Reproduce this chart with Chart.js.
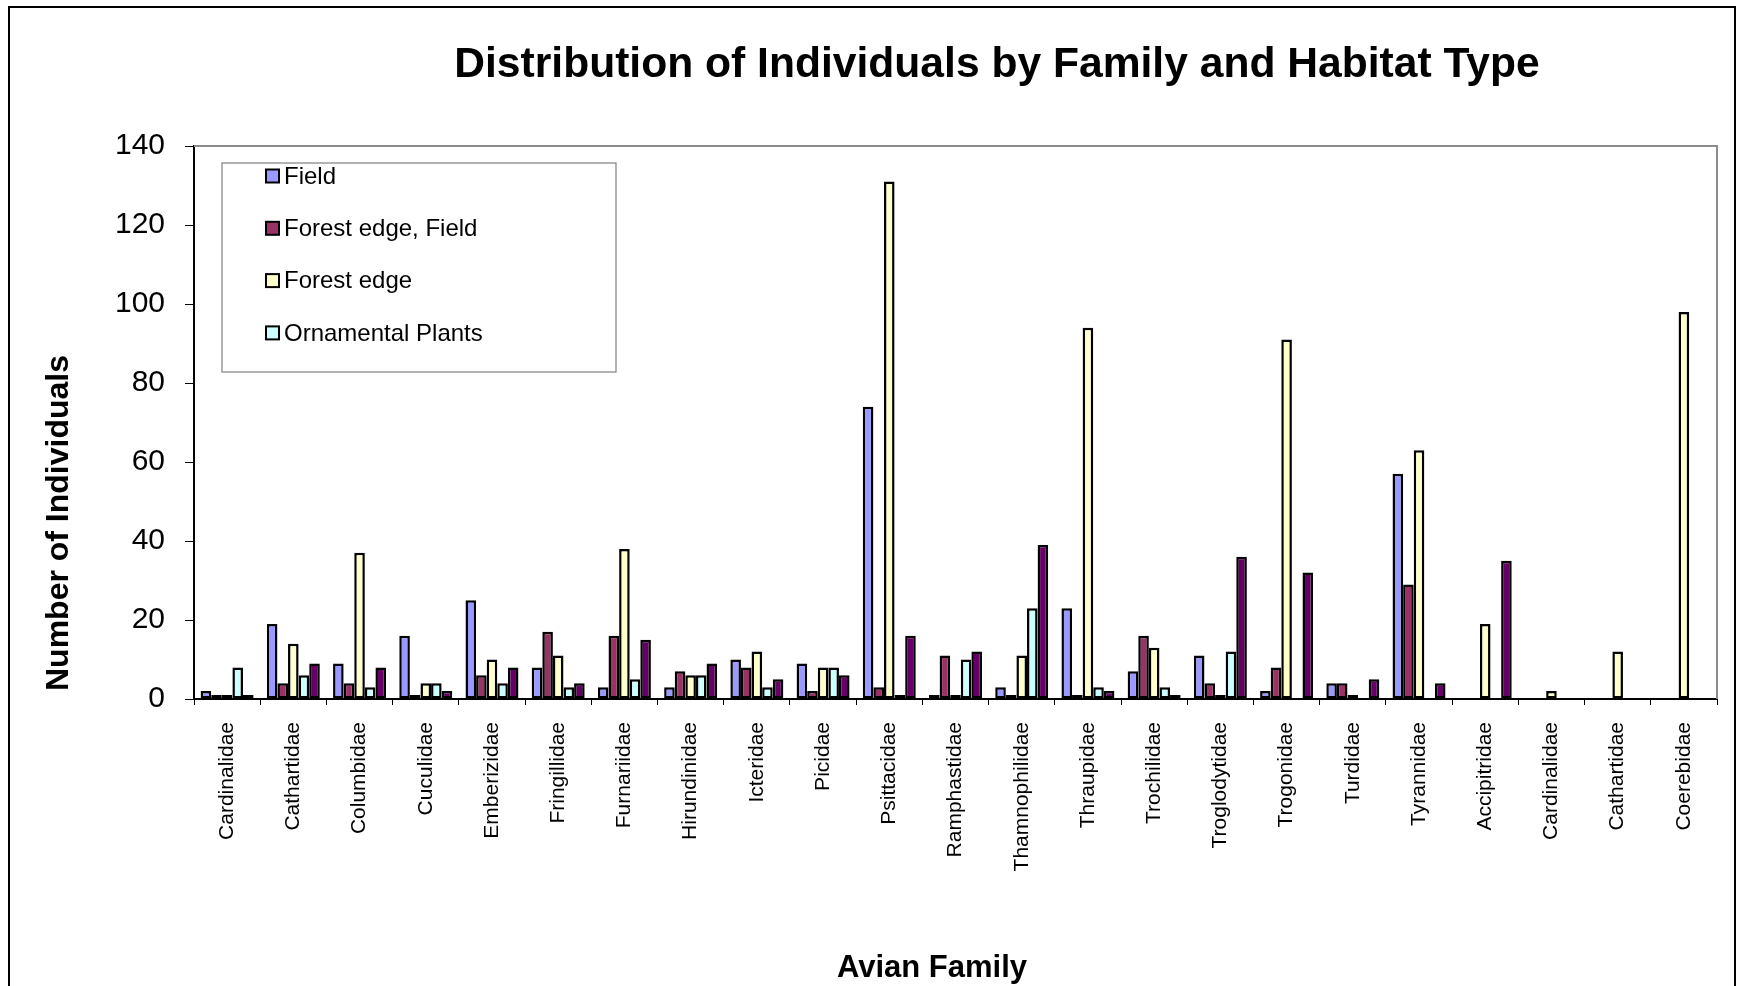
<!DOCTYPE html>
<html>
<head>
<meta charset="utf-8">
<title>Distribution of Individuals by Family and Habitat Type</title>
<script src="https://cdn.jsdelivr.net/npm/chart.js@4.4.1/dist/chart.umd.min.js"></script>
<style>
    html, body {
        margin: 0;
        padding: 0;
        background: #ffffff;
        overflow: hidden;
    }
    #chart-wrap {
        width: 1737px;
        height: 986px;
    }
</style>
</head>
<body>
<div id="chart-wrap">
    <canvas id="family-chart" width="1737" height="986"></canvas>
</div>
<script>
// Avian families along the x axis
const families = [
    'Cardinalidae', 'Cathartidae', 'Columbidae', 'Cuculidae', 'Emberizidae',
    'Fringillidae', 'Furnariidae', 'Hirundinidae', 'Icteridae', 'Picidae',
    'Psittacidae', 'Ramphastidae', 'Thamnophilidae', 'Thraupidae', 'Trochilidae',
    'Troglodytidae', 'Trogonidae', 'Turdidae', 'Tyrannidae', 'Accipitridae',
    'Cardinalidae', 'Cathartidae', 'Coerebidae'
];

// Individuals counted per habitat type
const field = [2, 19, 9, 16, 25, 8, 3, 3, 10, 9, 74, 1, 3, 23, 7, 11, 2, 4, 57, null, null, null, null];
const forestEdgeField = [1, 4, 4, 1, 6, 17, 16, 7, 8, 2, 3, 11, 1, 1, 16, 4, 8, 4, 29, null, null, null, null];
const forestEdge = [1, 14, 37, 4, 10, 11, 38, 6, 12, 8, 131, 1, 11, 94, 13, 1, 91, 1, 63, 19, 2, 12, 98];
const ornamentalPlants = [8, 6, 3, 4, 4, 3, 5, 6, 3, 8, 1, 10, 23, 3, 3, 12, null, null, null, null, null, null, null];
const forest = [1, 9, 8, 2, 8, 4, 15, 9, 5, 6, 16, 12, 39, 2, 1, 36, 32, 5, 4, 35, null, null, null];

const yTicks = [0, 20, 40, 60, 80, 100, 120, 140];

const FONT = '"Liberation Sans", Arial, Helvetica, sans-serif';

// Titles, legend box and frames drawn around the plot
const decorations = {
    id: 'decorations',
    beforeDraw(chart) {
        const ctx = chart.ctx;
        ctx.save();
        ctx.fillStyle = '#ffffff';
        ctx.fillRect(0, 0, chart.width, chart.height);
        ctx.restore();
    },
    beforeDatasetsDraw(chart) {
        const ctx = chart.ctx;
        const area = chart.chartArea;
        ctx.save();
        // grey plot area frame (top and right edges)
        ctx.strokeStyle = '#8c8c8c';
        ctx.lineWidth = 2;
        ctx.beginPath();
        ctx.moveTo(area.left, area.top);
        ctx.lineTo(area.right, area.top);
        ctx.lineTo(area.right, area.bottom);
        ctx.stroke();
        ctx.restore();
    },
    afterDraw(chart) {
        const ctx = chart.ctx;
        ctx.save();

        // outer frame
        ctx.strokeStyle = '#000000';
        ctx.lineWidth = 2;
        ctx.strokeRect(9, 7, 1726, chart.height + 10);

        // main title
        ctx.fillStyle = '#000000';
        ctx.font = `bold 42.6px ${FONT}`;
        ctx.textAlign = 'center';
        ctx.textBaseline = 'alphabetic';
        ctx.fillText('Distribution of Individuals by Family and Habitat Type', 997, 77);

        // x axis title
        ctx.font = `bold 31px ${FONT}`;
        ctx.fillText('Avian Family', 932, 977);

        // y axis title
        ctx.save();
        ctx.translate(68, 523);
        ctx.rotate(-Math.PI / 2);
        ctx.font = `bold 32px ${FONT}`;
        ctx.fillText('Number of Individuals', 0, 0);
        ctx.restore();

        // legend
        drawLegend(chart, ctx);
        ctx.restore();
    }
};

// Legend box inside the plot, listing the habitat series flagged for it
function drawLegend(chart, ctx) {
    const box = { x: 222, y: 163, w: 394, h: 209 };
    ctx.fillStyle = '#ffffff';
    ctx.fillRect(box.x, box.y, box.w, box.h);
    ctx.strokeStyle = '#808080';
    ctx.lineWidth = 1.2;
    ctx.strokeRect(box.x, box.y, box.w, box.h);

    ctx.font = `24px ${FONT}`;
    ctx.textAlign = 'left';
    ctx.textBaseline = 'middle';

    let row = 0;
    chart.data.datasets.forEach((ds) => {
        if (ds.inLegend === false) return;
        const cy = 176 + row * 52.3;
        ctx.fillStyle = ds.backgroundColor;
        ctx.fillRect(266, cy - 6.5, 13, 13);
        ctx.strokeStyle = '#000000';
        ctx.lineWidth = 2;
        ctx.strokeRect(266, cy - 6.5, 13, 13);
        ctx.fillStyle = '#000000';
        ctx.fillText(ds.label, 284, cy + 1);
        row++;
    });
}

function barSet(label, data, color, inLegend) {
    return {
        label: label,
        data: data,
        backgroundColor: color,
        borderColor: '#000000',
        borderWidth: 2.5,
        borderSkipped: false,
        inLegend: inLegend,
        categoryPercentage: 0.8,
        barPercentage: 1.0
    };
}

const ctx = document.getElementById('family-chart').getContext('2d');

const familyChart = new Chart(ctx, {
    type: 'bar',
    data: {
        labels: families,
        datasets: [
            barSet('Field', field, '#9999ff', true),
            barSet('Forest edge, Field', forestEdgeField, '#993366', true),
            barSet('Forest edge', forestEdge, '#ffffcc', true),
            barSet('Ornamental Plants', ornamentalPlants, '#ccffff', true),
            barSet('Forest', forest, '#660066', false)
        ]
    },
    options: {
        responsive: false,
        animation: false,
        layout: {
            padding: { top: 146, right: 20, bottom: 0, left: 0 }
        },
        plugins: {
            legend: { display: false },
            title: { display: false },
            tooltip: { enabled: false }
        },
        scales: {
            x: {
                afterFit: (scale) => { scale.height = 287; },
                border: { display: true, color: '#000000', width: 2 },
                grid: {
                    offset: true,
                    drawOnChartArea: false,
                    drawTicks: true,
                    tickLength: 6,
                    color: '#000000',
                    lineWidth: 1
                },
                ticks: {
                    autoSkip: false,
                    minRotation: 90,
                    maxRotation: 90,
                    padding: 17,
                    color: '#000000',
                    font: { family: FONT, size: 21 }
                }
            },
            y: {
                min: 0,
                max: 140,
                afterFit: (scale) => { scale.width = 194; },
                afterBuildTicks: (scale) => {
                    scale.ticks = yTicks.map((v) => ({ value: v }));
                },
                border: { display: true, color: '#000000', width: 2 },
                grid: {
                    drawOnChartArea: false,
                    drawTicks: true,
                    tickLength: 9,
                    color: '#000000',
                    lineWidth: 1
                },
                ticks: {
                    padding: 20,
                    color: '#000000',
                    font: { family: FONT, size: 30 }
                }
            }
        }
    },
    plugins: [decorations]
});
</script>
</body>
</html>
